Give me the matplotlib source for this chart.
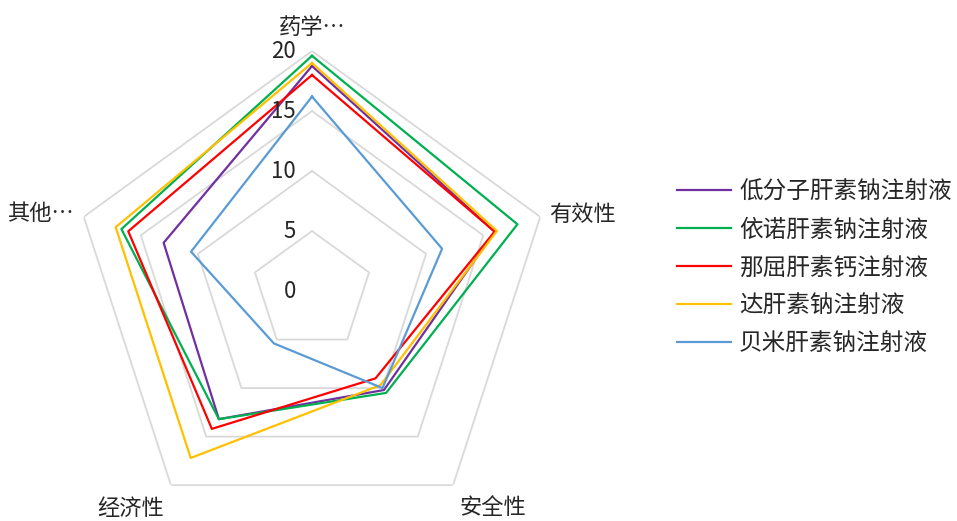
import numpy as np
import matplotlib
matplotlib.use('Agg')
import matplotlib.pyplot as plt

plt.rcParams['font.family'] = ['Noto Sans CJK SC', 'DejaVu Sans']

categories = ['药学…', '有效性', '安全性', '经济性', '其他…']
series_names = ['低分子肝素钠注射液', '依诺肝素钠注射液', '那屈肝素钙注射液',
                '达肝素钠注射液', '贝米肝素钠注射液']
lmwh = [18.75, 16.0, 10.2, 13.2, 13.0]
enox = [19.6, 18.0, 10.5, 13.2, 16.7]
nadro = [18.0, 16.0, 9.0, 14.2, 16.1]
dalte = [19.0, 16.2, 9.7, 17.2, 17.2]
bemi = [16.2, 11.4, 10.0, 5.4, 10.6]
r_ticks = [0, 5, 10, 15, 20]

colors = ['#7030A0', '#00B050', '#FF0000', '#FFC000', '#5B9BD5']
text_color = '#262626'

fig = plt.figure(figsize=(9.57, 5.21), dpi=100)
# polar area centred on (312, 291) px, radius 240 px
ax = fig.add_axes([72 / 957, (521 - 291 - 240) / 521, 480 / 957, 480 / 521],
                  projection='polar')
ax.set_theta_offset(np.pi / 2)
ax.set_theta_direction(-1)
ax.set_ylim(0, 20)
ax.grid(False)
ax.spines['polar'].set_visible(False)
ax.set_xticks([])
ax.set_yticks([])
ax.patch.set_visible(False)

n = len(categories)
theta = np.linspace(0, 2 * np.pi, n, endpoint=False)
theta_c = np.append(theta, theta[0])

# pentagon gridlines
for r in r_ticks[1:]:
    ax.plot(theta_c, [r] * (n + 1), color='#D9D9D9', lw=1.3, zorder=1)

for vals, name, c in zip([lmwh, enox, nadro, dalte, bemi], series_names, colors):
    ax.plot(theta_c, vals + vals[:1], color=c, lw=1.6, label=name, zorder=3,
            clip_on=False)

# radial tick labels, left of the top axis
for r in r_ticks:
    ax.annotate(str(r), (0, r), xytext=(-11.5, 0), textcoords='offset points',
                ha='right', va='center', fontsize=16, color=text_color)

# category labels
label_pos = [(0, 22.0, 'center'), (72.1, 20.8, 'left'), (140.2, 23.5, 'center'),
             (219.8, 23.6, 'center'), (287.9, 20.9, 'right')]
for cat, (ang, r, ha) in zip(categories, label_pos):
    ax.text(np.deg2rad(ang), r, cat, ha=ha, va='center', fontsize=16,
            color=text_color)

fig.legend(loc='center left', bbox_to_anchor=(677 / 957, 1 - 268 / 521),
           frameon=False, fontsize=17, handlelength=2.3, handletextpad=0.33,
           labelspacing=0.63, borderpad=0, borderaxespad=0,
           labelcolor=text_color)

fig.savefig('out.png', dpi=100)
